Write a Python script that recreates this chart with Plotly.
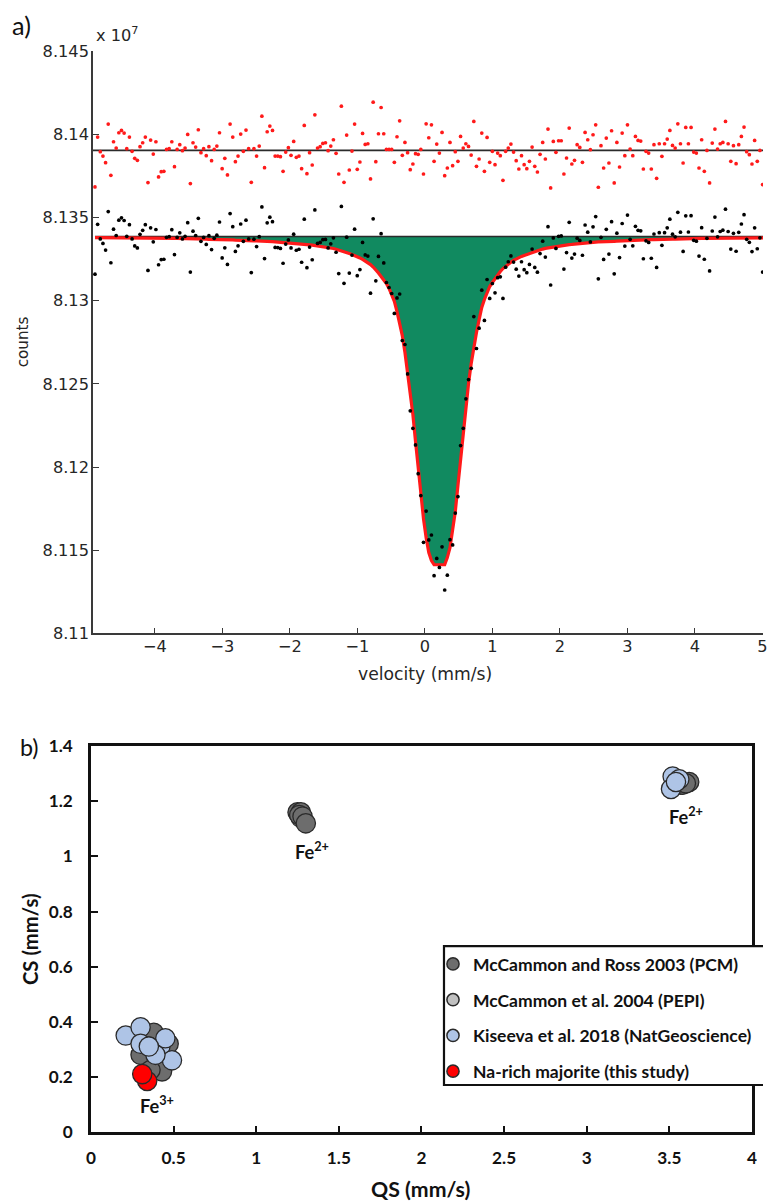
import numpy as np
import plotly.graph_objects as go

W, H = 768, 1204

# screen placement: the rendered page sits slightly inset and scaled,
# so layout positions (screen pixels) are mapped back into figure pixels
SX, OX = 0.987, 4.0
SY, OY = 0.983, 11.5
FS = 1.0 / SX          # font / marker size correction

# ---------------- (a) Mössbauer spectrum ----------------
# drive velocity of each recorded channel (mm/s), linear drive
N_CHAN = 255
velocity = np.linspace(-4.889, 5.080, N_CHAN)

baseline_counts = 81338700      # off-resonance count level
residual_zero = 81390500        # level the residuals are drawn about

# resonant absorption of the fitted curve below the baseline (counts)
absorption = [
    700, 700, 700, 800, 800, 800, 800, 800, 800, 800,
    800, 800, 900, 900, 900, 900, 900, 900, 900, 900,
    1000, 1000, 1000, 1000, 1000, 1100, 1100, 1100, 1100, 1100,
    1100, 1200, 1200, 1300, 1300, 1300, 1400, 1400, 1400, 1500,
    1500, 1600, 1600, 1700, 1700, 1700, 1800, 1900, 1900, 2000,
    2000, 2000, 2100, 2200, 2200, 2300, 2300, 2400, 2500, 2500,
    2600, 2700, 2700, 2800, 2900, 3000, 3000, 3100, 3200, 3300,
    3400, 3500, 3600, 3700, 3900, 4000, 4100, 4300, 4500, 4600,
    4800, 5000, 5200, 5400, 5600, 5800, 6100, 6400, 6700, 7000,
    7200, 7700, 8100, 8500, 9000, 9600, 10200, 10800, 11400, 12200,
    12900, 13800, 14700, 15800, 16900, 18400, 19900, 22000, 24100, 25900,
    28300, 31300, 34900, 39100, 45200, 52400, 59600, 69800, 81300, 93300,
    107200, 123400, 140300, 156500, 169800, 181200, 190200, 195000, 197500, 197500,
    197500, 197500, 197500, 193200, 187200, 176400, 165600, 149900, 134200, 116800,
    101700, 88500, 76500, 65600, 57800, 50000, 42700, 37900, 33700, 30100,
    27700, 25300, 23200, 21100, 19300, 17900, 16600, 15500, 14400, 13500,
    12600, 12000, 11400, 10800, 10200, 9600, 9000, 8500, 7900, 7600,
    7200, 6900, 6600, 6300, 6000, 5700, 5500, 5400, 5100, 4900,
    4800, 4600, 4400, 4200, 4100, 3900, 3800, 3700, 3600, 3400,
    3300, 3300, 3200, 3100, 3000, 2900, 2900, 2800, 2700, 2600,
    2600, 2500, 2500, 2400, 2300, 2300, 2200, 2200, 2000, 2000,
    1900, 1900, 1800, 1700, 1700, 1700, 1600, 1600, 1600, 1600,
    1500, 1400, 1400, 1400, 1300, 1300, 1300, 1200, 1200, 1100,
    1100, 1100, 1100, 1100, 1100, 1000, 1000, 1000, 1000, 1000,
    1000, 900, 900, 900, 900, 900, 900, 900, 900, 800,
    800, 800, 800, 800, 800,
]

# residuals (measured minus fitted counts)
residuals = [
    -22000, 8000, -800, -3400, -7400, 15800, -15000, 5200, 1400, 10600,
    12000, 10400, 1000, 8000, -600, -4800, -6000, 2200, 4600, 8000,
    -19400, 6200, -2200, 5200, -16000, -12800, -12600, 600, 1000, 5200,
    -9800, 600, 3400, -200, 1400, 9600, -20000, 4600, 2000, 12400,
    -1400, 1000, -3200, 2200, -6200, 600, 2600, 10600, -11000, -4800,
    -14800, 15800, 8000, -6800, -3400, 9800, -600, 12200, 1000, -19200,
    1000, -3400, 2600, 20600,
    -10400, 11200, 14600, 12000, -3400, -3400, -3800, -12600, -1000, 1600,
    -3000, 5400, -4200, -3400, -11000, 15000, -14000, -1400, -8800, 21400,
    1400, 2200, 4200, 4600, -200, 2600, 6400, -1800, -14200, 26600,
    -19200, 9200, -11800, -400, 15800, -11400, -7000, 10200, 3600, 4000,
    -17200, 29000, -6800, 10000, 25800, 10000, 600, 600, 600, -7200,
    8200, 17800, -3000, 4800, -1400, -11600, -8200, -2000, -2400, 600,
    -14200, 16000, 7600,
    15400, -6600, 3800, -1600, 10800, -15200, -10600, 4800, -9200, -800,
    -6600, 8400, 1400, 4000, 2400, -2800, 17400, -9600, -5200, 10400,
    -12600, 7800, -7200, -600, -8600, -1600, -3200, -18000, -600, 1400,
    3800, -1000, -6200, -11200, -3200, -8600, -11000, -6600, 2000, -9600,
    -13000, -2400, 4800, -5200, 12800, -22600, 5400, -1200, 5800, 5800,
    -14200, -4600, 13400, -8200, -6000, 3400, 1800, -7200, 10800, 6400,
    400, 9400, 15400, -22200, 2800, -10600, 7400, -7600, 11800, -19600,
    4800, -10000, 10400, -3200, 15400, 800, -3200, 8400, 6000, 5600,
    -11200, -600, -1600, -11200, 3400, -16800, 4000, -3600, 4000, 6800,
    12000, 3000, 1400, 16000, 4000, -7600, 13800, 4000, 13800, -1000,
    -1600, -10600, 6400, -12600, 0, -19600, 4400, 12800, 800, 4000,
    4800, 17400, 4000, -6600, 2800, -8000, 3400, 8400, 14000, -800,
    -2600, -8200, 6000, -6600, 0, -20600, 7400, 10400,
]

vel_ticks = [-4, -3, -2, -1, 0, 1, 2, 3, 4, 5]
vel_labels = ["\u22124", "\u22123", "\u22122", "\u22121", "0", "1", "2", "3", "4", "5"]
count_ticks = [81100000, 81150000, 81200000, 81250000, 81300000, 81350000, 81400000, 81450000]
count_labels = ["8.11", "8.115", "8.12", "8.125", "8.13", "8.135", "8.14", "8.145"]

assert len(absorption) == N_CHAN and len(residuals) == N_CHAN
fit_counts = baseline_counts - np.array(absorption)
counts = fit_counts + np.array(residuals)
residual_plot = residual_zero + np.array(residuals)

# ---------------- (b) hyperfine parameters ----------------
mr2003_qs = [1.25, 1.27, 1.26, 1.28, 1.30, 3.58, 3.62, 3.60, 0.38, 0.30, 0.43, 0.36, 0.47, 0.35]
mr2003_cs = [1.16, 1.16, 1.15, 1.145, 1.12, 1.26, 1.27, 1.265, 0.36, 0.28, 0.22, 0.225, 0.32, 0.31]
m2004_qs = [1.27, 3.57, 0.40, 0.41]
m2004_cs = [1.14, 1.26, 0.30, 0.26]
kis_qs = [3.52, 3.56, 3.51, 3.54, 0.21, 0.30, 0.30, 0.42, 0.45, 0.49, 0.39, 0.35]
kis_cs = [1.29, 1.28, 1.245, 1.27, 0.35, 0.38, 0.32, 0.31, 0.34, 0.26, 0.28, 0.31]
nam_qs = [0.34, 0.31]
nam_cs = [0.185, 0.21]

qs_ticks = [0, 0.5, 1, 1.5, 2, 2.5, 3, 3.5, 4]
qs_labels = ["0", "0.5", "1", "1.5", "2", "2.5", "3", "3.5", "4"]
cs_ticks = [0, 0.2, 0.4, 0.6, 0.8, 1.0, 1.2, 1.4]
cs_labels = ["0", "0.2", "0.4", "0.6", "0.8", "1", "1.2", "1.4"]

series_b = [
    ("McCammon and Ross 2003 (PCM)", mr2003_qs, mr2003_cs, "#6d6d6d"),
    ("McCammon et al. 2004 (PEPI)", m2004_qs, m2004_cs, "#c0c0c0"),
    ("Kiseeva et al. 2018 (NatGeoscience)", kis_qs, kis_cs, "#aec4e6"),
    ("Na-rich majorite (this study)", nam_qs, nam_cs, "#ff0000"),
]
draw_order = [1, 0, 2, 3]


def fx(x):
    """screen x -> figure x (pixels)"""
    return (x - OX) / SX


def fy(y):
    """screen y -> figure y (pixels from top)"""
    return (y - OY) / SY


def px(x):
    return min(fx(x) / W, 1.0)


def py(y):
    return 1 - fy(y) / H


def fs(s):
    return round(s * FS, 1)


# velocity axis: 67.5 screen px per mm/s with 0 at x = 424, left edge at x = 92
v_left = (92 - 424) / 67.5
v_right = v_left + (fx(768 * SX + OX) - fx(92)) * SX / 67.5

fig = go.Figure()

# baseline, then the fitted envelope filled down to it
fig.add_trace(go.Scatter(x=velocity, y=[baseline_counts] * N_CHAN, mode="lines",
                         line=dict(color="#2b2b2b", width=1.6), showlegend=False,
                         hoverinfo="skip", xaxis="x", yaxis="y"))
fig.add_trace(go.Scatter(x=velocity, y=fit_counts, mode="lines", fill="tonexty",
                         fillcolor="#118a60", line=dict(color="#ff1a1a", width=3.2),
                         showlegend=False, xaxis="x", yaxis="y"))
fig.add_trace(go.Scatter(x=velocity, y=counts, mode="markers",
                         marker=dict(color="#000000", size=3.7), showlegend=False,
                         xaxis="x", yaxis="y"))
fig.add_trace(go.Scatter(x=velocity, y=residual_plot, mode="markers",
                         marker=dict(color="#ff1a1a", size=3.7), showlegend=False,
                         xaxis="x", yaxis="y"))
fig.add_shape(type="line", xref="x domain", yref="y", x0=0, x1=1,
              y0=residual_zero, y1=residual_zero,
              line=dict(color="#2b2b2b", width=1.6), layer="below")

for k in draw_order:
    name, qs, cs, col = series_b[k]
    fig.add_trace(go.Scatter(x=qs, y=cs, mode="markers", name=name, showlegend=False,
                             marker=dict(color=col, size=fs(19),
                                         line=dict(color="#2a2a2a", width=1.3)),
                             xaxis="x2", yaxis="y2"))
for k, (name, qs, cs, col) in enumerate(series_b):
    fig.add_trace(go.Scatter(x=[None], y=[None], mode="markers", name=name,
                             legendgroup=f"g{k}",
                             marker=dict(color=col, size=fs(12),
                                         line=dict(color="#2a2a2a", width=1.5)),
                             xaxis="x2", yaxis="y2"))

font_a = dict(family="DejaVu Sans", size=fs(16), color="#262626")
font_b = dict(family="Lato", size=fs(17), color="#111111", weight="bold")

fig.update_layout(
    width=W, height=H, autosize=False,
    margin=dict(l=0, r=0, t=0, b=0),
    paper_bgcolor="white", plot_bgcolor="white",
    xaxis=dict(domain=[px(92), 1.0], range=[v_left, v_right], anchor="y",
               tickvals=vel_ticks, ticktext=vel_labels, ticks="inside", ticklen=5,
               tickwidth=1.3, tickcolor="#3a3a3a", showline=True, linecolor="#3a3a3a",
               linewidth=1.6, showgrid=False, zeroline=False, tickfont=font_a,
               ticklabelstandoff=-2),
    yaxis=dict(domain=[py(634), py(52)], range=[81100000, 81450000], anchor="x",
               tickvals=count_ticks, ticktext=count_labels, ticks="inside", ticklen=6,
               tickwidth=1.3, tickcolor="#3a3a3a", showline=True, linecolor="#3a3a3a",
               linewidth=1.6, showgrid=False, zeroline=False, tickfont=font_a,
               ticklabelstandoff=-1),
    xaxis2=dict(domain=[px(90), px(751)], range=[0, 4], anchor="y2",
                tickvals=qs_ticks, ticktext=qs_labels, ticks="inside", ticklen=6,
                tickwidth=2, tickcolor="#111", showline=True, mirror=True,
                linecolor="#111", linewidth=2.5, showgrid=False, zeroline=False,
                tickfont=font_b, ticklabelstandoff=9),
    yaxis2=dict(domain=[py(1133), py(747)], range=[0, 1.4], anchor="x2",
                tickvals=cs_ticks, ticktext=cs_labels, ticks="inside", ticklen=7,
                tickwidth=2, tickcolor="#111", showline=True, mirror=True,
                linecolor="#111", linewidth=2.5, showgrid=False, zeroline=False,
                tickfont=font_b, ticklabelstandoff=12),
    legend=dict(x=px(432), y=py(947), xanchor="left", yanchor="top",
                bgcolor="rgba(0,0,0,0)", borderwidth=0, tracegroupgap=10,
                font=dict(family="Lato", size=fs(17.3), color="#111111", weight="bold")),
    showlegend=True,
)

# legend frame: open on the right, where it runs off the page
frame = (f"M 1.0,{py(947)} L {px(443)},{py(947)} "
         f"L {px(443)},{py(1086)} L 1.0,{py(1086)}")
fig.add_shape(type="path", xref="paper", yref="paper", path=frame,
              line=dict(color="#111", width=2.2), fillcolor="white", layer="above")

ann = [
    dict(text="a)", x=px(9), y=py(26), xanchor="left", yanchor="middle",
         font=dict(family="Lato", size=fs(25), color="#111")),
    dict(text="x 10<sup>7</sup>", x=px(93), y=py(35), xanchor="left", yanchor="middle",
         font=font_a),
    dict(text="counts", x=px(22), y=py(342), textangle=-90, xanchor="center",
         yanchor="middle", font=dict(family="DejaVu Sans", size=fs(15), color="#262626")),
    dict(text="velocity (mm/s)", x=px(424), y=py(675), xanchor="center",
         yanchor="middle", font=dict(family="DejaVu Sans", size=fs(17), color="#262626")),
    dict(text="b)", x=px(17), y=py(748), xanchor="left", yanchor="middle",
         font=dict(family="Lato", size=fs(23), color="#111")),
    dict(text="CS (mm/s)", x=px(29), y=py(940), textangle=-90, xanchor="center",
         yanchor="middle", font=dict(family="Lato", size=fs(20), color="#111", weight="bold")),
    dict(text="QS (mm/s)", x=px(420), y=py(1190), xanchor="center", yanchor="middle",
         font=dict(family="Lato", size=fs(21), color="#111", weight="bold")),
]
for a in ann:
    fig.add_annotation(xref="paper", yref="paper", showarrow=False, **a)

for txt, qx, cy in [("Fe<sup>2+</sup>", 1.34, 1.02), ("Fe<sup>2+</sup>", 3.60, 1.15),
                    ("Fe<sup>3+</sup>", 0.40, 0.10)]:
    fig.add_annotation(xref="x2", yref="y2", x=qx, y=cy, text=txt, showarrow=False,
                       font=dict(family="Lato", size=fs(18), color="#111", weight="bold"))

fig.write_html("out.html")
